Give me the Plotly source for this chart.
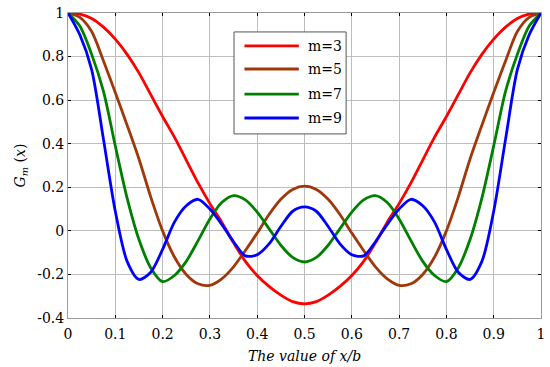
import plotly.graph_objects as go

x = [0.0, 0.025, 0.05, 0.075, 0.1, 0.125, 0.15, 0.175, 0.2, 0.225, 0.25, 0.275, 0.3, 0.325, 0.35, 0.375, 0.4, 0.425, 0.45, 0.475, 0.5,
     0.525, 0.55, 0.575, 0.6, 0.625, 0.65, 0.675, 0.7, 0.725, 0.75, 0.775, 0.8, 0.825, 0.85, 0.875, 0.9, 0.925, 0.95, 0.975, 1.0]

g_m3 = [1.0, 0.995, 0.975, 0.935, 0.88, 0.81, 0.725, 0.625, 0.525, 0.43, 0.325, 0.22, 0.125, 0.04, -0.055, -0.14, -0.205, -0.255, -0.295, -0.325, -0.335,
        -0.325, -0.295, -0.255, -0.205, -0.14, -0.055, 0.04, 0.125, 0.22, 0.325, 0.43, 0.525, 0.625, 0.725, 0.81, 0.88, 0.935, 0.975, 0.995, 1.0]
g_m5 = [1.0, 0.98, 0.915, 0.78, 0.635, 0.485, 0.33, 0.155, 0.0, -0.12, -0.2, -0.243, -0.25, -0.22, -0.165, -0.09, -0.01, 0.075, 0.145, 0.19, 0.205,
        0.19, 0.145, 0.075, -0.01, -0.09, -0.165, -0.22, -0.25, -0.243, -0.2, -0.12, 0.0, 0.155, 0.33, 0.485, 0.635, 0.78, 0.915, 0.98, 1.0]
g_m7 = [1.0, 0.94, 0.81, 0.64, 0.39, 0.15, -0.04, -0.17, -0.233, -0.205, -0.14, -0.045, 0.055, 0.13, 0.162, 0.142, 0.086, 0.01, -0.066, -0.122, -0.143,
        -0.122, -0.066, 0.01, 0.086, 0.142, 0.162, 0.13, 0.055, -0.045, -0.14, -0.205, -0.233, -0.17, -0.04, 0.15, 0.39, 0.64, 0.81, 0.94, 1.0]
g_m9 = [1.0, 0.9, 0.74, 0.42, 0.09, -0.14, -0.223, -0.19, -0.085, 0.04, 0.115, 0.145, 0.1, 0.03, -0.05, -0.115, -0.11, -0.06, 0.02, 0.09, 0.11,
        0.09, 0.02, -0.06, -0.11, -0.115, -0.05, 0.03, 0.1, 0.145, 0.115, 0.04, -0.085, -0.19, -0.223, -0.14, 0.09, 0.42, 0.74, 0.9, 1.0]

series_names = ["m=3", "m=5", "m=7", "m=9"]
series_values = [g_m3, g_m5, g_m7, g_m9]
colors = ["#ff0000", "#a0380c", "#008000", "#0000ff"]

x_ticks = [0.0, 0.1, 0.2, 0.3, 0.4, 0.5, 0.6, 0.7, 0.8, 0.9, 1.0]
x_ticktext = ["0", "0.1", "0.2", "0.3", "0.4", "0.5", "0.6", "0.7", "0.8", "0.9", "1"]
y_ticks = [-0.4, -0.2, 0.0, 0.2, 0.4, 0.6, 0.8, 1.0]
y_ticktext = ["-0.4", "-0.2", "0", "0.2", "0.4", "0.6", "0.8", "1"]

FONT = "DejaVu Serif"

fig = go.Figure()
for name, vals, col in zip(series_names, series_values, colors):
    fig.add_trace(go.Scatter(x=x, y=vals, mode="lines", name=name,
                             line=dict(color=col, width=2.8, shape="spline", smoothing=0.8),
                             showlegend=False))

# manual legend (MATLAB-like box)
leg_x0, leg_x1 = 0.351, 0.588
leg_y0, leg_y1 = 0.445, 0.913
row_y = [0.849, 0.743, 0.628, 0.518]
fig.add_shape(type="rect", xref="x", yref="y", x0=leg_x0, x1=leg_x1, y0=leg_y0, y1=leg_y1,
              line=dict(color="#555555", width=1), fillcolor="white", layer="above")
for name, col, yy in zip(series_names, colors, row_y):
    fig.add_shape(type="line", xref="x", yref="y", x0=0.373, x1=0.488, y0=yy, y1=yy,
                  line=dict(color=col, width=2.8), layer="above")
    fig.add_annotation(x=0.503, y=yy, xref="x", yref="y", text=name, showarrow=False,
                       xanchor="left", yanchor="middle", font=dict(family=FONT, size=14, color="black"))

axis_common = dict(showgrid=True, gridcolor="#bdbdbd", gridwidth=1, zeroline=False,
                   showline=True, linecolor="#9a9a9a", linewidth=1, mirror="ticks",
                   ticks="inside", ticklen=3, tickcolor="black", tickwidth=1,
                   tickmode="array", ticklabeloverflow="allow", automargin=False,
                   tickfont=dict(family=FONT, size=14, color="black"))

fig.update_xaxes(range=[0, 1], tickvals=x_ticks, ticktext=x_ticktext, ticklabelstandoff=3,
                 title=dict(text="<i>The value of x/b</i>", font=dict(family=FONT, size=14, color="black"), standoff=10),
                 **axis_common)
fig.update_yaxes(range=[-0.4, 1], tickvals=y_ticks, ticktext=y_ticktext,
                 title=dict(text="<i>G<sub>m</sub></i> (<i>x</i>)", font=dict(family=FONT, size=14, color="black"), standoff=8),
                 **axis_common)

fig.update_layout(width=550, height=367, margin=dict(l=68, r=9, t=13, b=49),
                  font=dict(family=FONT),
                  plot_bgcolor="white", paper_bgcolor="white", showlegend=False)

# remove the default page margin so the figure fills the 550x367 window
fig.write_html("out.html", config={"displayModeBar": False},
               post_script="document.body.style.margin='0';")
